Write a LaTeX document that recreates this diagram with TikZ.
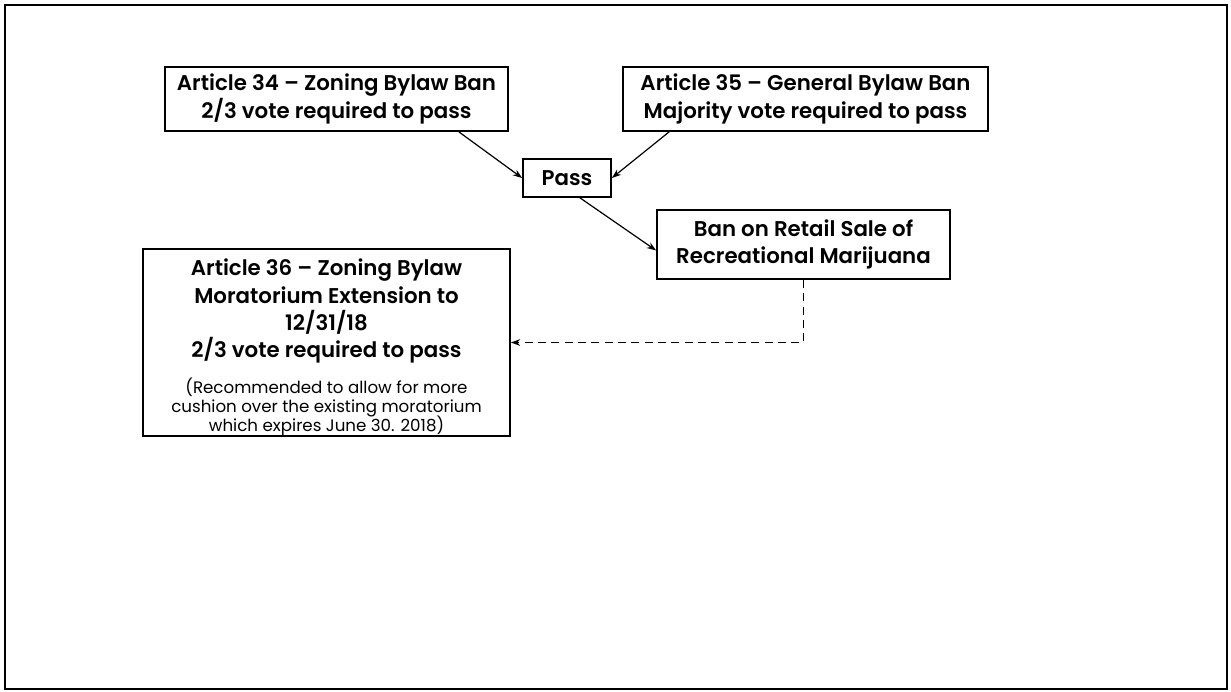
\documentclass[tikz,border=0pt]{standalone}
\usepackage{fontspec}
\setmainfont{Poppins}[BoldFont={Poppins SemiBold}]
\usetikzlibrary{arrows.meta,calc}
\newcommand\notefont{\mdseries\fontsize{12.5}{15}\selectfont}
\tikzset{
  box/.style={draw=black, line width=1.3pt, inner sep=0pt, align=center,
              font=\bfseries\fontsize{16}{20.5}\selectfont},
  link/.style={line width=0.9pt, -{Stealth[length=7pt,width=5pt]}},
  dashlink/.style={link, dash pattern=on 6pt off 4pt},
  frame/.style={line width=2pt}
}
\begin{document}
\begin{tikzpicture}[x=0.75pt, y=-0.75pt]
  \useasboundingbox (0,0) rectangle (1231,692);
  % outer frame
  \draw[frame] (5,5) rectangle (1227,689);

  % votes on the two bans
  \node[box, minimum width=343*0.75pt, minimum height=64*0.75pt] (a34) at (336.5,99)
    {Article 34 -- Zoning Bylaw Ban\\2/3 vote required to pass};
  \node[box, minimum width=365*0.75pt, minimum height=64*0.75pt] (a35) at (805.5,99)
    {Article 35 -- General Bylaw Ban\\Majority vote required to pass};
  \node[box, minimum width=88*0.75pt, minimum height=38*0.75pt] (pass) at (567,178)
    {Pass};
  \node[box, minimum width=293*0.75pt, minimum height=69*0.75pt] (ban) at (803.5,244.5)
    {Ban on Retail Sale of\\Recreational Marijuana};

  % moratorium extension
  \node[box, minimum width=367*0.75pt, minimum height=187*0.75pt] (a36) at (326.5,342.5)
    {\rule{0pt}{20pt}Article 36 -- Zoning Bylaw\\Moratorium Extension to\\12/31/18\\2/3 vote required to pass\\[6.5pt]
     \notefont (Recommended to allow for more\\[-6.3pt]
     \notefont cushion over the existing moratorium\\[-6.3pt]
     \notefont which expires June 30. 2018)};

  % connectors
  \draw[link] ($(a34.south east)+(-50,0)$) -- (pass.west);
  \draw[link] ($(a35.south west)+(47,0)$) -- (pass.east);
  \draw[link] ($(pass.south)+(13,0)$) -- ($(ban.west)+(0,6)$);
  \draw[dashlink] (ban.south) |- (a36.east);
\end{tikzpicture}
\end{document}
